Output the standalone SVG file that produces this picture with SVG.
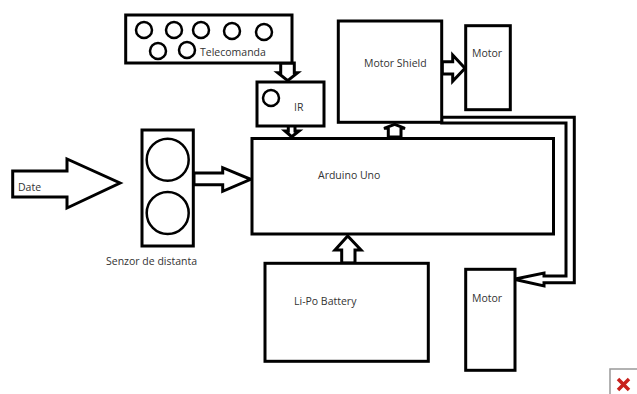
<svg xmlns="http://www.w3.org/2000/svg" width="637" height="394" viewBox="0 0 637 394">
<style>
.s{fill:#fff;stroke:#000;stroke-width:3}
.c{fill:#fff;stroke:#000;stroke-width:2.5}
.a{fill:#fff;stroke:#000;stroke-width:3;stroke-linejoin:miter}
.l{fill:none;stroke:#000;stroke-width:3}
text{font-family:"Open Sans","Noto Sans",sans-serif;font-size:10.5px;fill:#333}
</style>
<rect width="637" height="394" fill="#fff"/>
<g id="connectors">
<polygon class="a" points="12.7,171 67,171 67,159 120,183 67,208 67,197 12.7,197"/>
<polygon class="a" points="194,173 222.7,173 222.7,167.7 250.7,179.3 222.7,191.3 222.7,184.7 194,184.7"/>
<polygon class="a" points="280.7,63 294.3,63 294.3,72.7 297.7,72.7 287.7,80.7 277.7,72.7 280.7,72.7"/>
<polygon class="a" points="288.3,124 295,124 295,131 299,131 291.7,136.7 285,131 288.3,131"/>
<polygon class="a" points="388.3,137 401,137 401,128.3 405,128.3 394.7,124.3 384,128.3 388.3,128.3"/>
<polygon class="a" points="341.7,263 355,263 355,250 361,250 347.7,236 335,250 341.7,250"/>
<polygon class="a" points="442.3,61.7 452.7,61.7 452.7,55 465,68.3 452.7,81.3 452.7,74 442.3,74"/>
<polygon class="a" points="566,276 544,276 544,273 514,279.3 544,286 544,282.7 574.3,282.7 574.3,117.3 441.7,117.3 441.7,123 566,123"/>
</g>
<g id="telecomanda">
<rect class="s" x="125.7" y="15" width="166.3" height="48"/>
<circle class="c" cx="144" cy="30" r="8"/><circle class="c" cx="174" cy="30" r="8"/><circle class="c" cx="201" cy="30" r="8"/><circle class="c" cx="232" cy="31" r="8"/><circle class="c" cx="264" cy="32" r="8"/><circle class="c" cx="158" cy="51" r="8"/><circle class="c" cx="187" cy="50" r="8"/>
<text x="200" y="56">Telecomanda</text>
</g>
<g id="ir">
<rect class="s" x="257" y="82" width="67" height="44"/>
<circle class="c" cx="271" cy="98" r="8"/>
<text x="294" y="111">IR</text>
</g>
<g id="arduino">
<rect class="s" x="252" y="138.5" width="301.5" height="95.5"/>
<text x="318" y="179">Arduino Uno</text>
</g>
<g id="senzor">
<rect class="s" x="142" y="130" width="51.3" height="116"/>
<circle class="c" cx="167.7" cy="159.7" r="21"/>
<circle class="c" cx="167.7" cy="213" r="21"/>
<text x="106" y="265">Senzor de distanta</text>
</g>
<g id="date"><text x="18" y="191">Date</text></g>
<g id="motor-shield">
<rect class="s" x="338.3" y="21" width="103.4" height="101.3"/>
<text x="364" y="67">Motor Shield</text>
</g>
<g id="motor-1">
<rect class="s" x="465.7" y="25.7" width="44.6" height="84"/>
<text x="472" y="57">Motor</text>
</g>
<g id="motor-2">
<rect class="s" x="465.7" y="269.3" width="49.3" height="101"/>
<text x="472" y="302">Motor</text>
</g>
<g id="battery">
<rect class="s" x="265" y="263.3" width="163.3" height="98"/>
<text x="294" y="305">Li-Po Battery</text>
</g>
<g id="icon">
<rect x="610" y="369" width="30" height="30" fill="#fff" stroke="#999" stroke-width="1.5"/>
<path d="M618 379L629 390M629 379L618 390" stroke="#c8201c" stroke-width="3.5" fill="none"/>
</g>
</svg>
